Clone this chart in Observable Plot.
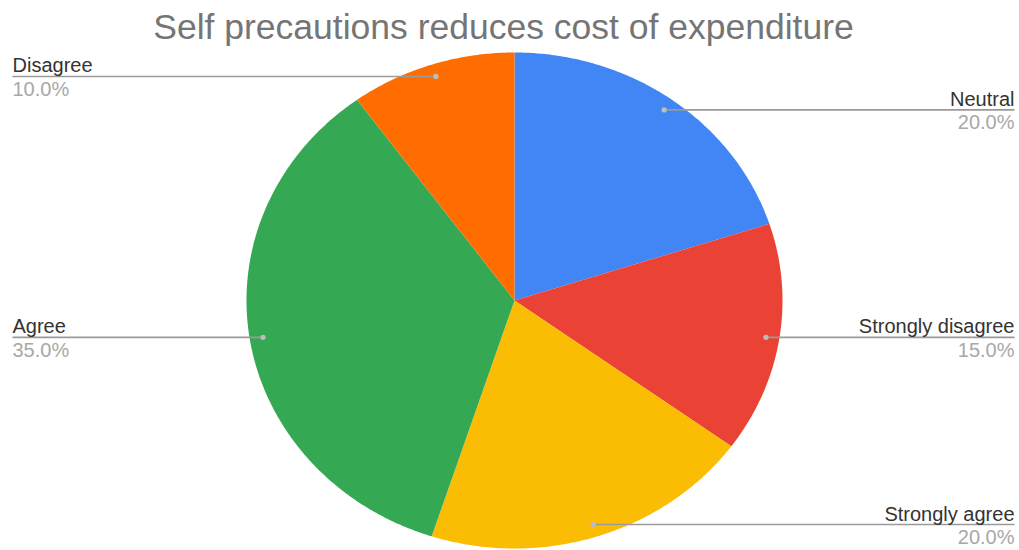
<!DOCTYPE html>
<html>
<head>
<meta charset="utf-8">
<script src="https://cdn.jsdelivr.net/npm/d3@7"></script>
<script src="https://cdn.jsdelivr.net/npm/@observablehq/plot@0.6"></script>
<style>
  html, body { margin: 0; padding: 0; background: #fff; }
  #title { width: 1019px; height: 52px; line-height: 54px; text-align: center; box-sizing: border-box; padding-right: 12px;
           font-family: "Liberation Sans", Arial, sans-serif; font-size: 35.5px; color: #757575; white-space: nowrap; }
</style>
</head>
<body>
<div id="title">Self precautions reduces cost of expenditure</div>
<div id="chart"></div>
<script>
const categories = ["Neutral", "Strongly disagree", "Strongly agree", "Agree", "Disagree"];
const percentages = [20, 15, 20, 35, 10];
const percentLabels = ["20.0%", "15.0%", "20.0%", "35.0%", "10.0%"];
const colors = ["#4285F4", "#EA4335", "#FBBC04", "#34A853", "#FF6D01"];

// layout
const W = 1019, H = 498;
const xRange = [246, 782];      // pie horizontal extent (px)
const yRange = [496, 0];        // pie vertical extent (px)
const labelLeftPx = 12, labelRightPx = 1014;
const labelRadius = 0.95;

const rows = categories.map((c, i) => ({cat: c, value: percentages[i], pct: percentLabels[i]}));
const arcs = d3.pie().sort(null).value(d => d.value).startAngle(0).endAngle(2 * Math.PI)(rows);

// polygon points of each slice in unit-circle data space
const pts = [];
for (const a of arcs) {
  const n = Math.max(2, Math.ceil((a.endAngle - a.startAngle) / (Math.PI / 360)));
  pts.push({cat: a.data.cat, x: 0, y: 0});
  for (let k = 0; k <= n; k++) {
    const t = a.startAngle + (a.endAngle - a.startAngle) * k / n;
    pts.push({cat: a.data.cat, x: Math.sin(t), y: Math.cos(t)});
  }
}

const xs = d3.scaleLinear([-1, 1], xRange);
const leftEdge = xs.invert(labelLeftPx), rightEdge = xs.invert(labelRightPx);

const labels = arcs.map(a => {
  const mid = (a.startAngle + a.endAngle) / 2;
  const lx = labelRadius * Math.sin(mid), ly = labelRadius * Math.cos(mid);
  const right = lx >= 0;
  return {cat: a.data.cat, pct: a.data.pct, lx, ly, right, edge: right ? rightEdge : leftEdge};
});

const font = "Liberation Sans, Arial, sans-serif";
const fs = 20;
const chart = Plot.plot({
  width: W, height: H,
  marginLeft: 0, marginRight: 0, marginTop: 0, marginBottom: 0,
  style: {fontFamily: font, background: "#fff"},
  x: {domain: [-1, 1], range: xRange, axis: null},
  y: {domain: [-1, 1], range: yRange, axis: null},
  color: {domain: categories, range: colors},
  marks: [
    Plot.line(pts, {x: "x", y: "y", z: "cat", fill: "cat", stroke: "none", curve: "linear"}),
    Plot.link(labels, {x1: "lx", y1: "ly", x2: "edge", y2: "ly", stroke: "#9a9a9a", strokeWidth: 1.6}),
    Plot.dot(labels, {x: "lx", y: "ly", r: 2.6, fill: "#bdbdbd", stroke: "none"}),
    Plot.text(labels.filter(d => d.right), {x: "edge", y: "ly", text: "cat", textAnchor: "end", lineAnchor: "bottom", dy: -4, fontSize: fs, fill: "#333"}),
    Plot.text(labels.filter(d => !d.right), {x: "edge", y: "ly", text: "cat", textAnchor: "start", lineAnchor: "bottom", dy: -4, fontSize: fs, fill: "#333"}),
    Plot.text(labels.filter(d => d.right), {x: "edge", y: "ly", text: "pct", textAnchor: "end", lineAnchor: "top", dy: 5, fontSize: fs, fill: "#a8a8a8"}),
    Plot.text(labels.filter(d => !d.right), {x: "edge", y: "ly", text: "pct", textAnchor: "start", lineAnchor: "top", dy: 5, fontSize: fs, fill: "#a8a8a8"})
  ]
});
document.getElementById("chart").appendChild(chart);
</script>
</body>
</html>
